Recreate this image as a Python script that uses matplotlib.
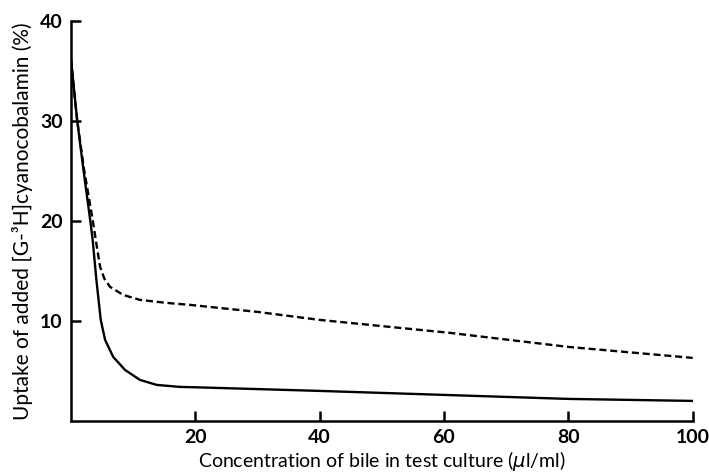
import numpy as np
import matplotlib.pyplot as plt

# concentration of bile (ul/ml) and uptake (%)
x_solid = [0, 1.0, 2.0, 3.1, 3.5, 4.1, 4.8, 5.5, 6.8, 8.7, 11.1, 13.8, 17.5, 20.7,
           40, 60, 80, 100]
y_solid = [36.2, 30.1, 25.2, 20.1, 18.1, 14.1, 10.1, 8.1, 6.4, 5.1, 4.1, 3.6, 3.4, 3.35,
           3.0, 2.6, 2.2, 2.0]

x_dashed = [0, 1.0, 2.1, 3.5, 4.0, 4.7, 5.4, 6.3, 8.4, 11.1, 15.4, 19.2, 30, 40, 61, 80, 100]
y_dashed = [36.2, 30.1, 25.2, 20.1, 18.1, 15.4, 14.2, 13.4, 12.6, 12.1, 11.8, 11.6, 10.9,
            10.1, 8.8, 7.4, 6.3]

xticks = [20, 40, 60, 80, 100]
yticks = [10, 20, 30, 40]

plt.rcParams['font.family'] = ['Lato', 'DejaVu Sans']

fig = plt.figure(figsize=(7.09, 4.74), dpi=100)
ax = fig.add_axes([0.1, 0.112, 0.877, 0.844])

ax.plot(x_solid, y_solid, color='black', lw=1.7)
ax.plot(x_dashed, y_dashed, color='black', lw=1.7, dashes=(3, 1.6))

ax.set_xlim(0, 100)
ax.set_ylim(0, 40)
ax.set_xticks(xticks)
ax.set_yticks(yticks)
ax.spines['top'].set_visible(False)
ax.spines['right'].set_visible(False)
ax.spines['left'].set_linewidth(1.8)
ax.spines['bottom'].set_linewidth(1.8)
ax.tick_params(direction='in', length=7, width=1.8, labelsize=14, pad=6)
for lab in ax.get_xticklabels() + ax.get_yticklabels():
    lab.set_fontweight('bold')

ax.set_xlabel('Concentration of bile in test culture ($\\mu$l/ml)', fontsize=14, labelpad=2)
ax.set_ylabel('Uptake of added [G-\u00b3H]cyanocobalamin (%)', fontsize=15, labelpad=5)

fig.savefig('out.png', dpi=100)
